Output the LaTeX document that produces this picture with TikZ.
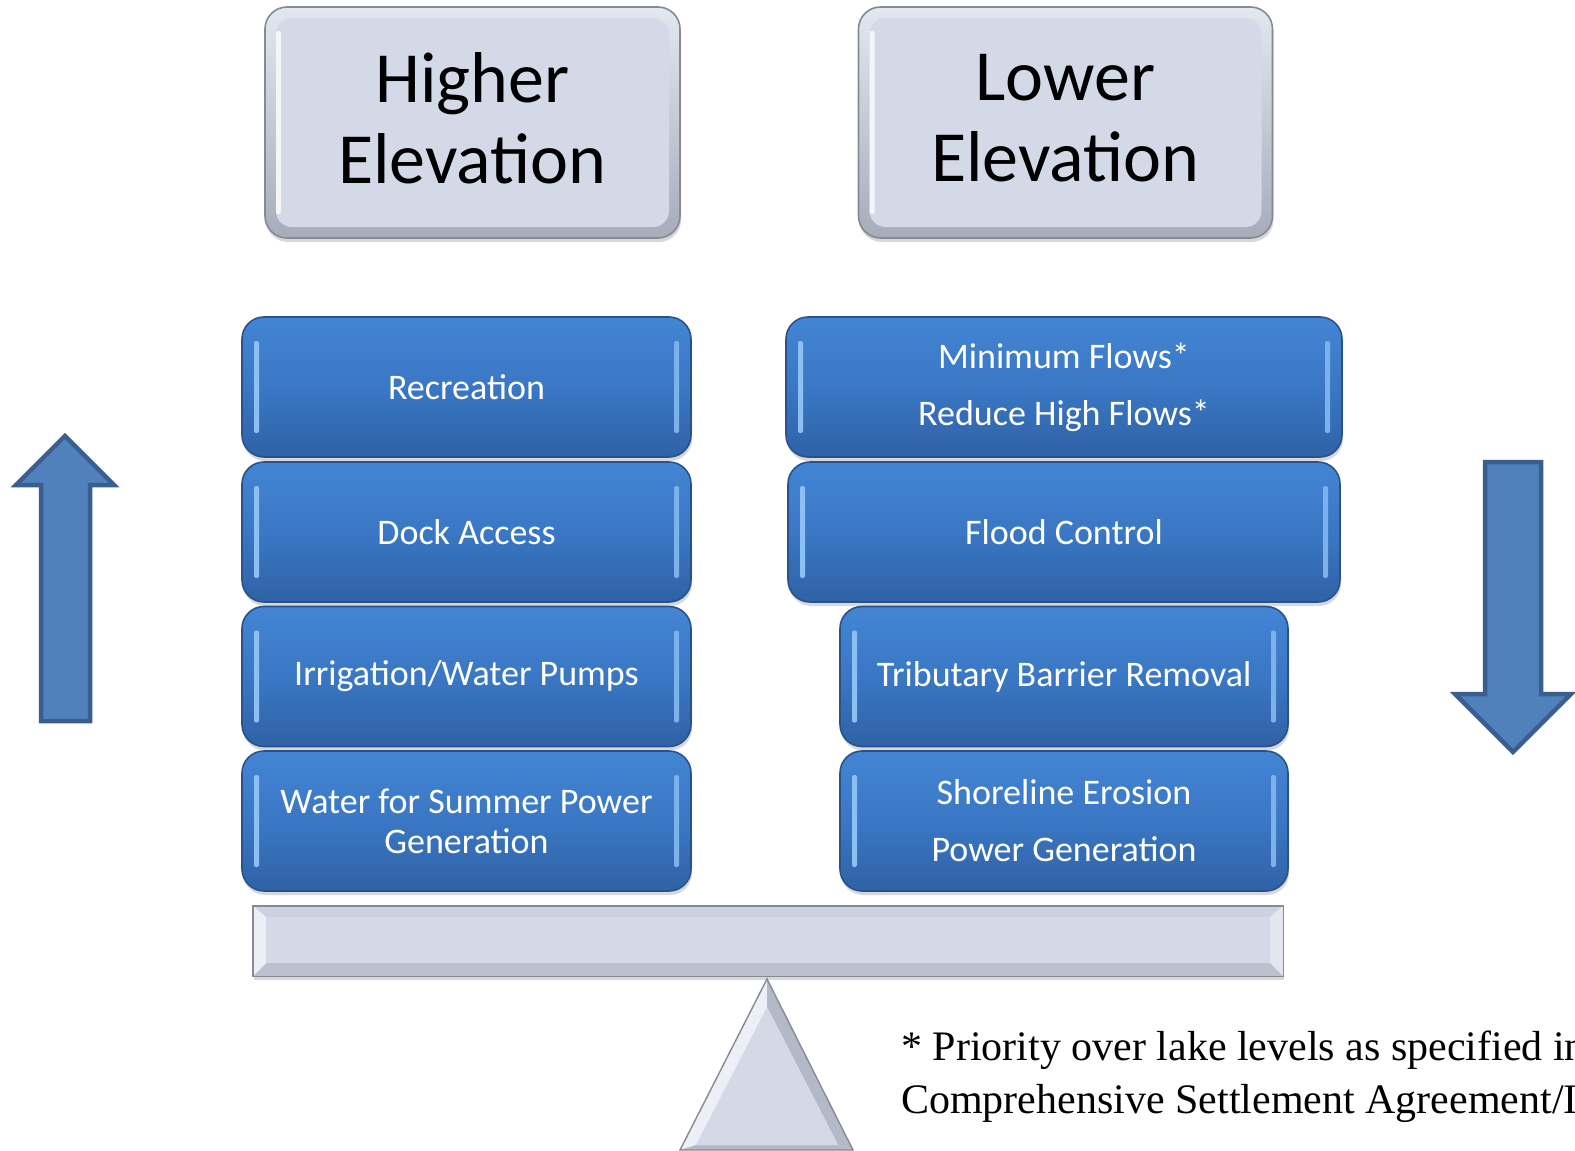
\documentclass[tikz,border=0pt]{standalone}
\usepackage{fontspec}
\setmainfont{Carlito}
\newfontfamily\serifnote{Liberation Serif}
\usetikzlibrary{shadows}
\definecolor{bluetop}{HTML}{4385D4}
\definecolor{bluemid}{HTML}{3A77C4}
\definecolor{bluebot}{HTML}{2F62A6}
\definecolor{bluerim}{HTML}{2A528A}
\definecolor{bluehl}{HTML}{8CC0F2}
\definecolor{grayface}{HTML}{D4D9E8}
\definecolor{grayhi}{HTML}{E4E7F0}
\definecolor{graylo}{HTML}{A6ACB9}
\definecolor{grayrim}{HTML}{858A94}
\definecolor{arrowfill}{HTML}{4F81BD}
\definecolor{arrowrim}{HTML}{3A5F8E}
\definecolor{facetlight}{HTML}{EDEFF6}
\definecolor{facetmid}{HTML}{CDD2E0}
\definecolor{facetdark}{HTML}{B3B9C6}
\tikzset{
  bluebox/.style={rectangle, rounded corners=22pt, draw=bluerim, line width=1.6pt,
    top color=bluetop, bottom color=bluebot, middle color=bluemid,
    text=white, font=\fontsize{36}{43}\selectfont, align=center, inner sep=0pt,
    minimum height=140pt,
    drop shadow={shadow xshift=1pt, shadow yshift=-4pt, opacity=0.3},
    path picture={
      \fill[bluehl, rounded corners=2pt]
        ([xshift=12pt,yshift=-24pt]path picture bounding box.north west) rectangle
        ([xshift=17pt,yshift=24pt]path picture bounding box.south west);
      \fill[bluehl!80!bluemid, rounded corners=2pt]
        ([xshift=-17pt,yshift=-24pt]path picture bounding box.north east) rectangle
        ([xshift=-12pt,yshift=24pt]path picture bounding box.south east);
    }},
  graybox/.style={rectangle, rounded corners=22pt, draw=grayrim, line width=1.6pt,
    top color=grayhi, bottom color=graylo, inner sep=0pt,
    minimum width=415pt, minimum height=231pt,
    drop shadow={shadow xshift=1pt, shadow yshift=-4pt, opacity=0.3},
    path picture={
      \fill[grayface, rounded corners=16pt]
        ([shift={(11pt,-11pt)}]path picture bounding box.north west) rectangle
        ([shift={(-11pt,11pt)}]path picture bounding box.south east);
      \fill[white, opacity=0.75, rounded corners=2pt]
        ([xshift=11pt,yshift=-24pt]path picture bounding box.north west) rectangle
        ([xshift=16pt,yshift=24pt]path picture bounding box.south west);
    }},
  headtext/.style={font=\fontsize{72}{81}\selectfont, align=center, inner sep=0pt},
  bigarrow/.style={fill=arrowfill, draw=arrowrim, line width=4.5pt, line join=miter},
  rim/.style={draw=grayrim, line width=1.4pt, line join=miter},
  note/.style={font=\serifnote\fontsize{42}{53}\selectfont, inner sep=0pt}
}
\begin{document}
\begin{tikzpicture}[x=1pt,y=-1pt]
\useasboundingbox (0,0) rectangle (1575,1151);
\clip (0,0) rectangle (1575,1151);
\fill[white] (0,0) rectangle (1575,1151);

% header boxes
\node[graybox] (higher) at (472.5,122.5) {};
\node[headtext] (highertext) at (472.5,118.5) {Higher\\Elevation};
\node[graybox, minimum width=414pt] (lower) at (1065.5,122.5) {};
\node[headtext] (lowertext) at (1065.5,118.5) {Lower\\Elevation};

% left column
\node[bluebox, minimum width=449pt] (rec) at (466.5,387) {Recreation};
\node[bluebox, minimum width=449pt] (dock) at (466.5,532) {Dock Access};
\node[bluebox, minimum width=449pt] (irr) at (466.5,676.5) {Irrigation/Water Pumps};
\node[bluebox, minimum width=449pt, font=\fontsize{36}{40}\selectfont] (water) at (466.5,821) {Water for Summer Power\\Generation};

% right column
\node[bluebox, minimum width=556pt] (minf) at (1064,387) {Minimum Flows*\\[14pt]Reduce High Flows*};
\node[bluebox, minimum width=552pt] (flood) at (1064,532) {Flood Control};
\node[bluebox, minimum width=448pt] (trib) at (1064,676.5) {Tributary Barrier Removal};
\node[bluebox, minimum width=448pt] (shore) at (1064,821) {Shoreline Erosion\\[14pt]Power Generation};

% fulcrum triangle
\coordinate (apex) at (767,979);
\coordinate (bl) at (680,1150);
\coordinate (br) at (853,1150);
\coordinate (iapex) at (767,1007);
\coordinate (ibl) at (696,1145);
\coordinate (ibr) at (838,1145);
\fill[facetlight] (apex) -- (bl) -- (ibl) -- (iapex) -- cycle;
\fill[facetdark] (apex) -- (iapex) -- (ibr) -- (br) -- cycle;
\fill[facetdark] (bl) -- (br) -- (ibr) -- (ibl) -- cycle;
\fill[grayface] (iapex) -- (ibl) -- (ibr) -- cycle;
\draw[rim] (apex) -- (bl) -- (br) -- cycle;

% beam
\node[rectangle, fill=grayface, inner sep=0pt, minimum width=1030pt, minimum height=70pt,
      drop shadow={shadow xshift=1pt, shadow yshift=-4pt, opacity=0.3}] (beam) at (768,941) {};
\fill[facetmid] (beam.north west) -- (beam.north east) -- ([shift={(-13pt,-11pt)}]beam.north east) -- ([shift={(13pt,-11pt)}]beam.north west) -- cycle;
\fill[facetdark!70!facetmid] (beam.south west) -- (beam.south east) -- ([shift={(-13pt,13pt)}]beam.south east) -- ([shift={(13pt,13pt)}]beam.south west) -- cycle;
\fill[facetlight] (beam.north west) -- (beam.south west) -- ([shift={(13pt,13pt)}]beam.south west) -- ([shift={(13pt,-11pt)}]beam.north west) -- cycle;
\fill[facetlight!70!facetmid] (beam.north east) -- (beam.south east) -- ([shift={(-13pt,13pt)}]beam.south east) -- ([shift={(-13pt,-11pt)}]beam.north east) -- cycle;
\draw[rim] (beam.north west) rectangle (beam.south east);

% side arrows
\draw[bigarrow] (41,721) -- (41,485) -- (16,485) -- (65,436) -- (114,485) -- (90,485) -- (90,721) -- cycle;
\draw[bigarrow] (1485,462) -- (1541,462) -- (1541,694) -- (1571,694) -- (1513,752) -- (1455,694) -- (1485,694) -- cycle;

% footnote
\node[note, anchor=base west] (fn) at (901,1113) {\begin{tabular}[b]{@{}l@{}}* Priority over lake levels as specified in\\Comprehensive Settlement Agreement/I\end{tabular}};
\end{tikzpicture}
\end{document}
